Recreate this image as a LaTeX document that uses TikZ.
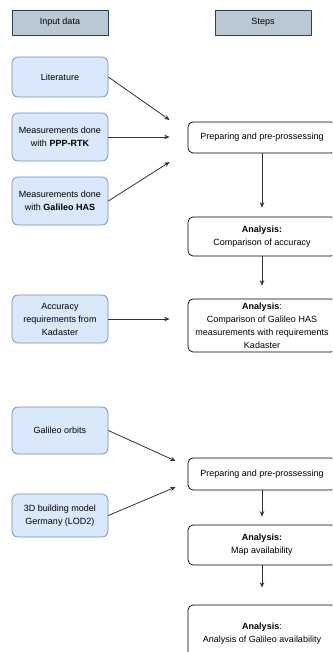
\documentclass[tikz,border=0pt]{standalone}
\usepackage{fontspec}
\usetikzlibrary{arrows.meta}
\setmainfont{Liberation Sans}
\definecolor{inblue}{HTML}{DAE8FC}
\definecolor{inborder}{HTML}{6C8EBF}
\definecolor{headfill}{HTML}{BAC8D3}
\definecolor{headborder}{HTML}{23445D}
\definecolor{arrowgray}{HTML}{333333}
\tikzset{
	headbox/.style={draw=headborder, fill=headfill, line width=0.7pt, minimum width=96pt, minimum height=25pt, inner sep=0pt, align=center},
	inputbox/.style={draw=inborder, fill=inblue, line width=0.7pt, rounded corners=6pt, minimum width=96pt, inner sep=0pt, align=center},
	stepbox/.style={draw=black, fill=white, line width=0.7pt, rounded corners=5pt, minimum width=148pt, inner sep=0pt, align=center},
	link/.style={->, draw=arrowgray, line width=0.8pt}
}
\begin{document}
\begin{tikzpicture}[x=1pt, y=-1pt, font=\fontsize{9}{13}\selectfont, line join=round, >={Stealth[length=5.5pt, width=4.5pt]}]
		\useasboundingbox (0,0) rectangle (332,652);
		\clip (0,0) rectangle (332,652);
		% headers
		\node[headbox] (hinput) at (60,22.5) {Input data};
		\node[headbox] (hsteps) at (263,22.5) {Steps};
		% first part: accuracy
		\node[inputbox, minimum height=40pt] (lit) at (60,77) {Literature};
		\node[inputbox, minimum height=48pt] (ppp) at (60,137) {Measurements done\\with \textbf{PPP-RTK}};
		\node[inputbox, minimum height=48pt] (has) at (60,201) {Measurements done\\with \textbf{Galileo HAS}};
		\node[inputbox, minimum height=48pt] (req) at (60,319) {Accuracy\\requirements from\\Kadaster};
		\node[stepbox, minimum height=31pt] (prepa) at (262,137.5) {Preparing and pre-prossessing};
		\node[stepbox, minimum height=39pt] (acc) at (262,236.5) {\textbf{Analysis:}\\Comparison of accuracy};
		\node[stepbox, minimum height=53pt] (cmp) at (262,325.5) {\textbf{Analysis}:\\Comparison of Galileo HAS\\measurements with requirements\\Kadaster};
		\draw[link] (lit.east) -- ([shift={(-18,-17.5)}]prepa.west);
		\draw[link] (ppp.east) -- ([shift={(-18,-0.5)}]prepa.west);
		\draw[link] (has.east) -- ([shift={(-18,24.5)}]prepa.west);
		\draw[link, shorten >=9pt] (prepa.south) -- (acc.north);
		\draw[link, shorten >=13pt] (acc.south) -- (cmp.north);
		\draw[link] (req.east) -- ([shift={(-18,0)}]req.east -| cmp.west);
		% second part: availability
		\node[inputbox, minimum height=47pt] (orb) at (60,430.5) {Galileo orbits};
		\node[inputbox, minimum height=43pt] (lod) at (60,515.5) {3D building model\\Germany (LOD2)};
		\node[stepbox, minimum height=32pt] (prepb) at (262,474) {Preparing and pre-prossessing};
		\node[stepbox, minimum height=40pt] (map) at (262,545) {\textbf{Analysis:}\\Map availability};
		\node[stepbox, minimum height=57pt] (avail) at (262,633.5) {\textbf{Analysis}:\\Analysis of Galileo availability};
		\draw[link] (orb.east) -- ([shift={(-12,-13)}]prepb.west);
		\draw[link] (lod.east) -- ([shift={(-12,13)}]prepb.west);
		\draw[link, shorten >=8pt] (prepb.south) -- (map.north);
		\draw[link, shorten >=17pt] (map.south) -- (avail.north);
	\end{tikzpicture}
\end{document}
